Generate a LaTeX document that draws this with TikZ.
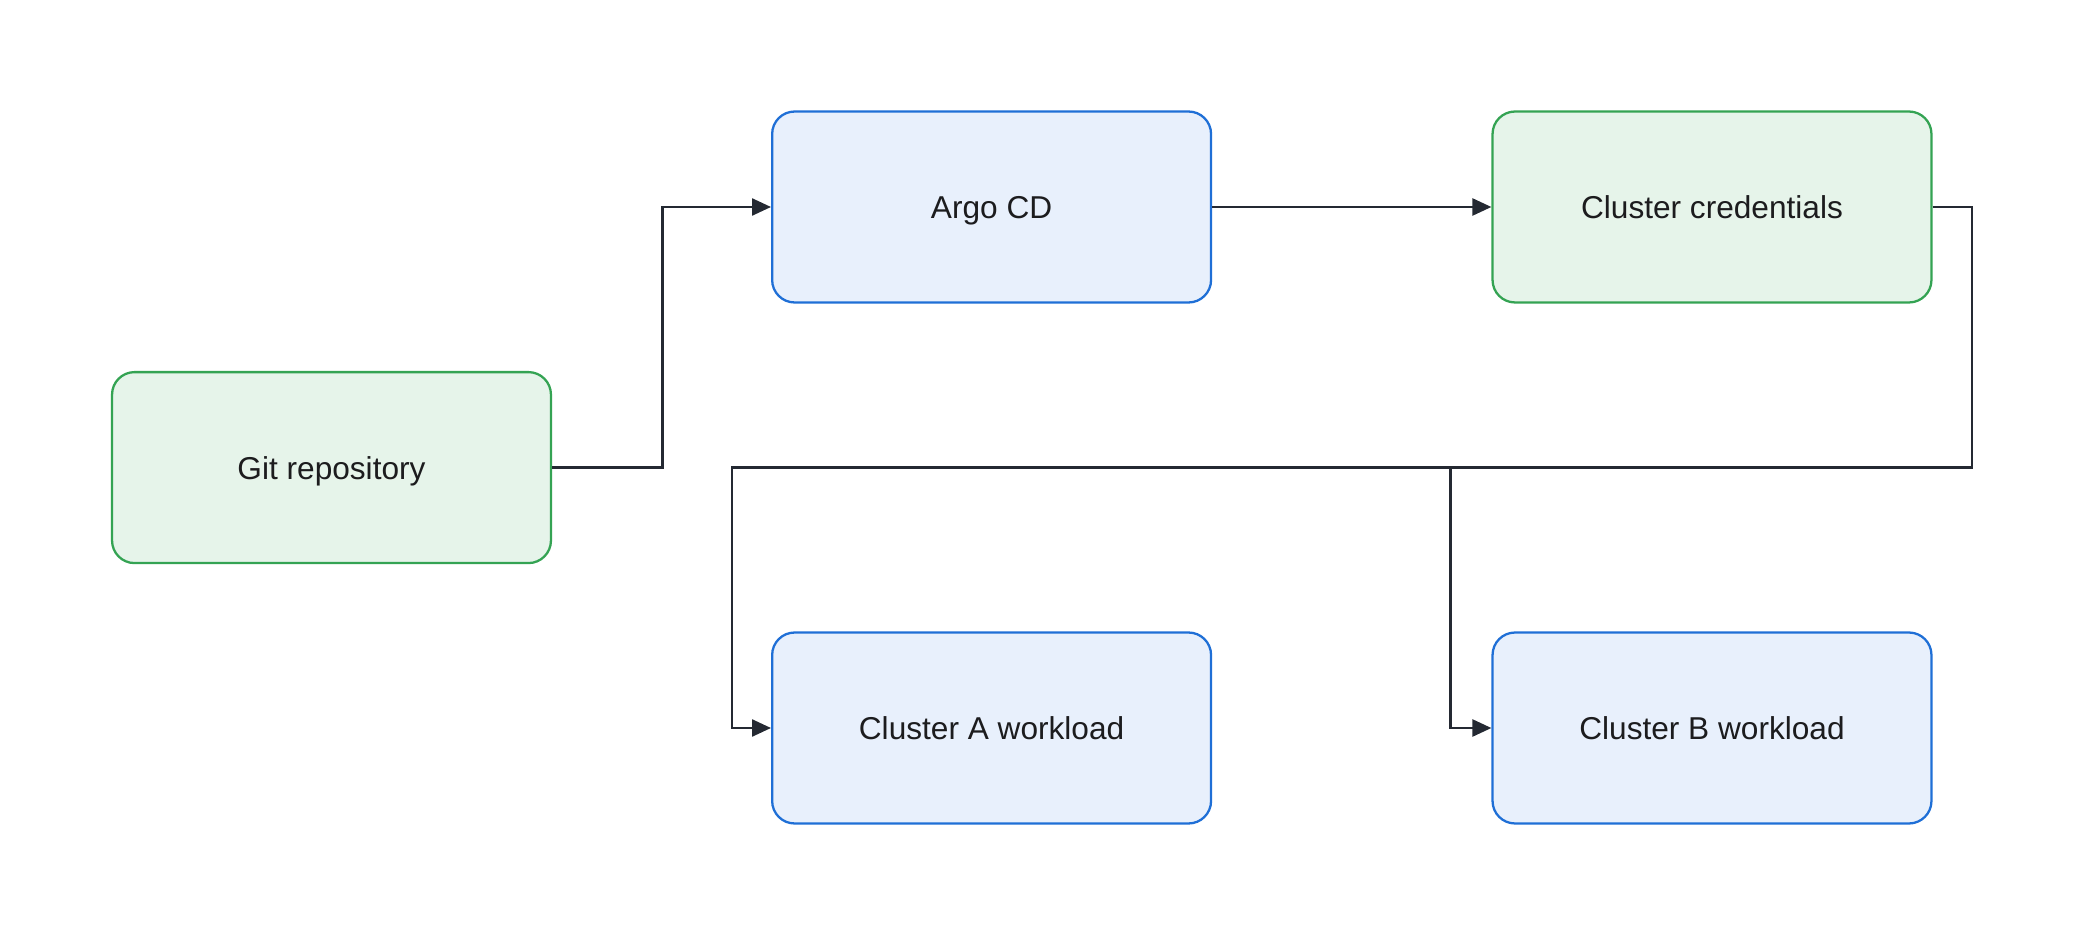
\documentclass[tikz,border=0pt]{standalone}
\usepackage{fontspec}
\setmainfont{Liberation Sans}
\usepackage{xcolor}
\usetikzlibrary{arrows.meta,positioning}
\definecolor{blueline}{RGB}{31, 111, 214}
\definecolor{bluebg}{RGB}{232, 240, 252}
\definecolor{greenline}{RGB}{52, 163, 83}
\definecolor{greenbg}{RGB}{230, 244, 234}
\definecolor{darkslate}{RGB}{36, 41, 50}
\definecolor{textgray}{RGB}{28, 28, 30}

\begin{document}
\begin{tikzpicture}[
    x=0.02cm, y=-0.02cm,
    >={Triangle[length=0.38cm,width=0.34cm]},
    box/.style={rounded corners=0.45cm, line width=1.3pt, align=center, text=textgray,
        font=\fontsize{18}{22}\selectfont, text height=13.5pt, text depth=0pt,
        minimum width=8.78cm, minimum height=3.82cm, inner sep=0pt},
    bluebox/.style={box, draw=blueline, fill=bluebg},
    greenbox/.style={box, draw=greenline, fill=greenbg},
    arrow/.style={->, line width=1.4pt, darkslate}
]
    \useasboundingbox (0,0) rectangle (2083,935);

    % Sources
    \node[greenbox] (git) at (331.5, 467.6) {Git repository};
    \node[bluebox] (argo) at (991.6, 207) {Argo CD};
    \node[greenbox] (creds) at (1712, 207) {Cluster credentials};

    % Targets
    \node[bluebox] (wa) at (991.6, 728) {Cluster A workload};
    \node[bluebox] (wb) at (1712, 728) {Cluster B workload};

    \coordinate (split) at (1450.6, 467.6);

    % Connectors
    \draw[arrow] (git.east) -- ++(110.3,0) |- (argo.west);
    \draw[arrow] (argo) -- (creds);
    \draw[arrow] (creds.east) -- ++(39.5,0) |- (split) -- ++(-718.6,0) |- (wa.west);
    \draw[arrow] (split) |- (wb.west);

\end{tikzpicture}
\end{document}
